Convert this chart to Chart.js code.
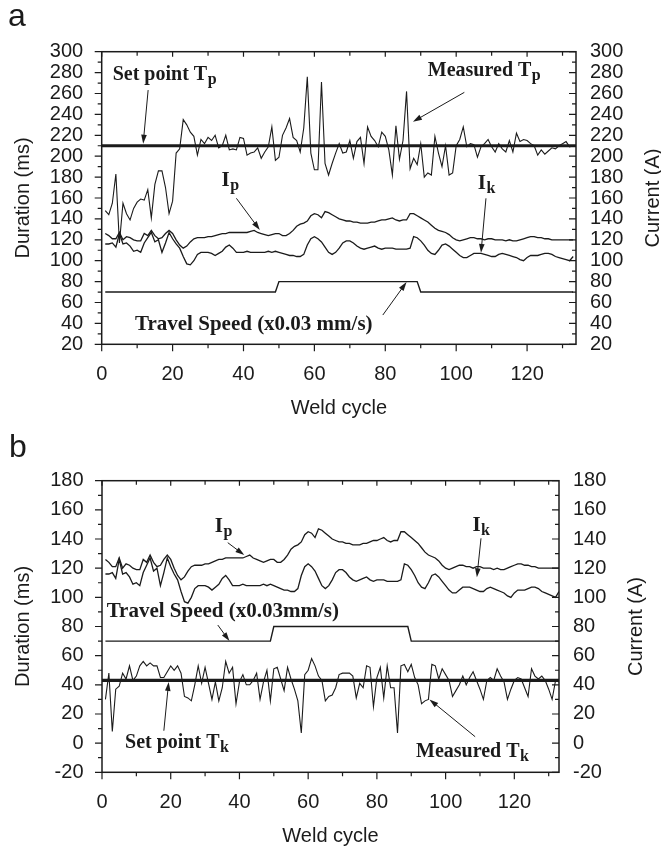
<!DOCTYPE html>
<html>
<head>
<meta charset="utf-8">
<title>Weld cycle control</title>
<script src="https://cdn.jsdelivr.net/npm/chart.js@4.4.1/dist/chart.umd.min.js"></script>
<style>
  html, body { margin: 0; padding: 0; background: #fff; }
  #wrap { position: relative; width: 661px; height: 848px; overflow: hidden; }
  canvas { position: absolute; left: 0; }
  #chartA { top: 0; }
  #chartB { top: 428px; }
</style>
</head>
<body>
<div id="wrap">
  <canvas id="chartA" width="661" height="426"></canvas>
  <canvas id="chartB" width="661" height="420"></canvas>
</div>
<script>
// weld cycles 1..133 (x axis)
const cycles = Array.from({ length: 133 }, (_, i) => i + 1);

// panel a: measured peak duration Tp (ms)
const measuredTp = [
  148, 144, 155, 183, 117, 155, 145, 139, 150, 156,
  159, 158, 168, 141, 173, 186, 186, 170, 145, 157,
  203, 207, 235, 230, 223, 219, 201, 216, 212, 218,
  215, 220, 208, 210, 220, 206, 207, 206, 218, 217,
  201, 203, 204, 208, 198, 204, 209, 228, 196, 199,
  220, 227, 236, 218, 215, 204, 227, 276, 203, 187,
  187, 271, 193, 182, 193, 203, 212, 203, 204, 215,
  198, 214, 218, 193, 228, 219, 215, 209, 223, 219,
  206, 182, 229, 197, 215, 262, 188, 198, 192, 212,
  180, 184, 182, 219, 203, 190, 210, 182, 184, 210,
  216, 228, 209, 212, 211, 199, 209, 212, 216, 209,
  204, 212, 207, 204, 215, 204, 222, 214, 216, 215,
  212, 210, 201, 206, 202, 205, 208, 207, 210, 212,
  214, 209, 210
];

// peak current Ip (A), both panels
const currentIp = [
  126, 124, 121, 121, 127, 120, 123, 122, 120, 119,
  119, 126, 124, 129, 124, 121, 122, 126, 129, 126,
  120, 115, 112, 114, 118, 121, 122, 122, 122, 123,
  123, 124, 125, 126, 126, 127, 127, 127, 127, 127,
  127, 128, 129, 127, 126, 125, 124, 125, 126, 126,
  124, 124, 126, 129, 133, 135, 136, 138, 143, 145,
  144, 141, 147, 146, 144, 142, 140, 139, 138, 138,
  137, 137, 136, 136, 136, 137, 137, 138, 139, 139,
  140, 141, 139, 138, 139, 139, 145, 145, 143, 141,
  139, 137, 134, 131, 129, 128, 127, 125, 122, 120,
  119, 120, 121, 122, 122, 121, 121, 120, 121, 121,
  120, 120, 120, 119, 120, 119, 119, 120, 121, 122,
  123, 123, 122, 122, 121, 121, 120, 120, 120, 120,
  120, 120, 120
];

// base current Ik (A), both panels
const currentIk = [
  116, 116, 117, 113, 126, 116, 117, 114, 109, 110,
  108, 117, 122, 127, 118, 120, 108, 117, 127, 121,
  116, 112, 104, 97, 96, 100, 106, 108, 108, 108,
  107, 105, 107, 109, 113, 115, 112, 108, 108, 108,
  109, 108, 108, 108, 108, 108, 109, 108, 109, 108,
  107, 106, 105, 105, 104, 104, 106, 115, 121, 123,
  121, 118, 113, 108, 106, 108, 112, 117, 119, 119,
  117, 114, 112, 111, 112, 113, 114, 112, 111, 112,
  112, 112, 111, 111, 111, 111, 112, 123, 122, 119,
  115, 110, 107, 106, 110, 115, 116, 114, 111, 108,
  105, 103, 103, 105, 107, 107, 107, 106, 105, 104,
  104, 106, 107, 106, 105, 104, 103, 101, 100, 103,
  105, 105, 105, 106, 107, 107, 106, 104, 103, 102,
  101, 100, 104
];

// panel b: measured base duration Tk (ms)
const measuredTk = [
  30, 48, 8, 37, 39, 48, 44, 53, 43, 46,
  53, 56, 53, 55, 53, 53, 45, 45, 49, 53,
  50, 53, 48, 32, 31, 29, 40, 53, 41, 52,
  41, 30, 42, 29, 38, 56, 48, 52, 27, 42,
  47, 40, 40, 43, 48, 30, 42, 50, 29, 51,
  52, 44, 36, 52, 44, 37, 29, 7, 47, 50,
  58, 53, 46, 43, 29, 32, 33, 38, 47, 48,
  48, 48, 46, 31, 41, 38, 53, 52, 25, 45,
  52, 31, 53, 38, 38, 7, 53, 54, 49, 54,
  45, 40, 27, 29, 30, 54, 53, 44, 51, 47,
  43, 32, 36, 40, 46, 40, 45, 49, 43, 37,
  30, 43, 45, 43, 51, 46, 42, 30, 37, 43,
  45, 44, 38, 32, 51, 46, 44, 46, 43, 37,
  30, 43, 42
];

const setPointTp = 210;
const setPointTk = 43;

// travel speed (x0.03 mm/s): corner points of the step profile
const speedCycles = [1, 49, 50, 89, 90, 133];
const speedValues = [70, 70, 80, 80, 70, 70];

// tick labels
const xTicks = [0, 20, 40, 60, 80, 100, 120];
const yTicksA = [20, 40, 60, 80, 100, 120, 140, 160, 180, 200, 220, 240, 260, 280, 300];
const yTicksB = [-20, 0, 20, 40, 60, 80, 100, 120, 140, 160, 180];

// annotation texts and where they sit (data coordinates)
const notesA = [
  { text: 'Set point T', sub: 'p', x: 3.1, y: 273, size: 20 },
  { text: 'Measured T', sub: 'p', x: 92, y: 276.7, size: 20 },
  { text: 'I', sub: 'p', x: 33.8, y: 171.5, size: 21 },
  { text: 'I', sub: 'k', x: 106.1, y: 168.3, size: 21 },
  { text: 'Travel Speed (x0.03 mm/s)', sub: '', x: 9.4, y: 33.7, size: 21 }
];
const arrowsA = [
  [13.1, 263.3, 11.7, 212],
  [102.3, 261.1, 87.8, 233],
  [38, 159.7, 44.6, 129.4],
  [108.4, 159.7, 107, 107.5],
  [79.3, 48, 86, 79.5]
];
const notesB = [
  { text: 'I', sub: 'p', x: 32.8, y: 145, size: 21 },
  { text: 'I', sub: 'k', x: 107.8, y: 145.7, size: 21 },
  { text: 'Travel Speed (x0.03mm/s)', sub: '', x: 1.35, y: 86.7, size: 21 },
  { text: 'Set point T', sub: 'k', x: 6.7, y: -3.5, size: 20 },
  { text: 'Measured T', sub: 'k', x: 91.4, y: -9.3, size: 20 }
];
const arrowsB = [
  [36.6, 137.5, 41.4, 129],
  [110.3, 140.5, 109.1, 113.7],
  [33.7, 81, 37.1, 70],
  [18, 8.5, 19.4, 42],
  [108.6, 4.4, 95.3, 30]
];

const INK = '#1b1b1b';
Chart.defaults.font.family = '"Liberation Sans", Arial, Helvetica, sans-serif';
Chart.defaults.color = INK;

function xy(xs, ys) {
  return xs.map((x, i) => ({ x: x, y: ys[i] }));
}

function line(data, width) {
  return { data: data, borderColor: INK, borderWidth: width, pointRadius: 0, tension: 0, clip: 0, fill: false };
}

function drawArrow(ctx, x1, y1, x2, y2) {
  const ang = Math.atan2(y2 - y1, x2 - x1);
  const L = 9, W = 2.8;
  ctx.beginPath();
  ctx.moveTo(x1, y1);
  ctx.lineTo(x2 - Math.cos(ang) * 4, y2 - Math.sin(ang) * 4);
  ctx.stroke();
  ctx.beginPath();
  ctx.moveTo(x2, y2);
  ctx.lineTo(x2 - L * Math.cos(ang) + W * Math.sin(ang), y2 - L * Math.sin(ang) - W * Math.cos(ang));
  ctx.lineTo(x2 - L * Math.cos(ang) - W * Math.sin(ang), y2 - L * Math.sin(ang) + W * Math.cos(ang));
  ctx.closePath();
  ctx.fill();
}

// frame, inner/outer tick marks, titles and the callouts
const framePlugin = {
  id: 'frame',
  afterDatasetsDraw(chart, args, o) {
    const { ctx, chartArea: a } = chart;
    const xs = chart.scales.x, ys = chart.scales.y;
    ctx.save();
    ctx.strokeStyle = INK;
    ctx.fillStyle = INK;
    ctx.lineWidth = 1.5;
    ctx.strokeRect(a.left, a.top, a.right - a.left, a.bottom - a.top);

    ctx.lineWidth = 1.2;
    ctx.beginPath();
    for (let v = ys.min; v <= ys.max + 0.01; v += 10) {
      const py = ys.getPixelForValue(v);
      const major = o.yTicks.includes(v);
      ctx.moveTo(a.left - (major ? 7 : 4), py);
      ctx.lineTo(a.left, py);
      ctx.moveTo(a.right, py);
      ctx.lineTo(a.right - (major ? 7 : 4), py);
    }
    for (let v = 0; v <= xs.max; v += 10) {
      const px = xs.getPixelForValue(v);
      const major = xTicks.includes(v);
      ctx.moveTo(px, a.bottom);
      ctx.lineTo(px, a.bottom + (major ? 7 : 4));
      ctx.moveTo(px, a.top);
      ctx.lineTo(px, a.top + (major ? 5 : 4));
    }
    ctx.stroke();

    // axis titles
    ctx.font = '20px "Liberation Sans", Arial, sans-serif';
    ctx.textAlign = 'center';
    ctx.textBaseline = 'middle';
    const midY = (a.top + a.bottom) / 2;
    ctx.save();
    ctx.translate(o.leftTitleX, midY);
    ctx.rotate(-Math.PI / 2);
    ctx.fillText('Duration (ms)', 0, 0);
    ctx.restore();
    ctx.save();
    ctx.translate(a.right + 77, midY);
    ctx.rotate(-Math.PI / 2);
    ctx.fillText('Current (A)', 0, 0);
    ctx.restore();
    ctx.textBaseline = 'alphabetic';
    ctx.fillText('Weld cycle', (a.left + a.right) / 2, a.bottom + 69.4);

    // panel letter
    ctx.textAlign = 'left';
    ctx.font = '32px "Liberation Sans", Arial, sans-serif';
    ctx.fillText(o.letter, o.letterX, o.letterY);

    // callouts
    o.notes.forEach(n => {
      const px = xs.getPixelForValue(n.x), py = ys.getPixelForValue(n.y);
      ctx.font = 'bold ' + n.size + 'px "Liberation Serif", "Times New Roman", serif';
      ctx.fillText(n.text, px, py);
      if (n.sub) {
        const w = ctx.measureText(n.text).width;
        ctx.font = 'bold 16px "Liberation Serif", "Times New Roman", serif';
        ctx.fillText(n.sub, px + w + 0.5, py + 4);
      }
    });
    ctx.lineWidth = 1;
    o.arrows.forEach(r => {
      drawArrow(ctx, xs.getPixelForValue(r[0]), ys.getPixelForValue(r[1]),
        xs.getPixelForValue(r[2]), ys.getPixelForValue(r[3]));
    });
    ctx.restore();
  }
};

function makeChart(id, c) {
  const tickFont = { size: 20 };
  return new Chart(document.getElementById(id), {
    type: 'line',
    data: { datasets: c.datasets },
    options: {
      responsive: false,
      animation: false,
      devicePixelRatio: 1,
      events: [],
      layout: { padding: { top: c.top, left: 0, right: 0, bottom: 0 }, autoPadding: false },
      plugins: {
        legend: { display: false },
        tooltip: { enabled: false },
        frame: {
          yTicks: c.yTicks, notes: c.notes, arrows: c.arrows, letter: c.letter,
          letterX: c.letterX, letterY: c.letterY, leftTitleX: 23
        }
      },
      scales: {
        x: {
          type: 'linear', min: 0, max: c.xMax,
          grid: { display: false, drawTicks: false }, border: { display: false },
          ticks: { padding: 18, color: INK, font: tickFont, autoSkip: false, maxRotation: 0 },
          afterBuildTicks: s => { s.ticks = xTicks.map(v => ({ value: v })); },
          afterFit: s => { s.height = c.height - c.bottom; }
        },
        y: {
          type: 'linear', position: 'left', min: c.yMin, max: c.yMax,
          grid: { display: false, drawTicks: false }, border: { display: false },
          ticks: { padding: 18.5, color: INK, font: tickFont, autoSkip: false },
          afterBuildTicks: s => { s.ticks = c.yTicks.map(v => ({ value: v })); },
          afterFit: s => { s.width = c.left; }
        },
        y1: {
          type: 'linear', position: 'right', min: c.yMin, max: c.yMax,
          grid: { display: false, drawTicks: false }, border: { display: false },
          ticks: { padding: 14, color: INK, font: tickFont, autoSkip: false },
          afterBuildTicks: s => { s.ticks = c.yTicks.map(v => ({ value: v })); },
          afterFit: s => { s.width = 661 - c.right; }
        }
      }
    },
    plugins: [framePlugin]
  });
}

const xMaxA = 133.8, xMaxB = 133;

makeChart('chartA', {
  top: 51.7, bottom: 344.3, left: 101.7, right: 576, height: 426,
  xMax: xMaxA, yMin: 20, yMax: 300, yTicks: yTicksA,
  notes: notesA, arrows: arrowsA, letter: 'a', letterX: 8, letterY: 26,
  datasets: [
    line(xy(cycles, measuredTp), 1.1),
    line([{ x: 0, y: setPointTp }, { x: xMaxA, y: setPointTp }], 3.2),
    line(xy(cycles, currentIp), 1.3),
    line(xy(cycles, currentIk), 1.3),
    line(xy(speedCycles, speedValues), 1.4)
  ]
});

makeChart('chartB', {
  top: 52.7, bottom: 344.3, left: 102, right: 559, height: 420,
  xMax: xMaxB, yMin: -20, yMax: 180, yTicks: yTicksB,
  notes: notesB, arrows: arrowsB, letter: 'b', letterX: 9, letterY: 29,
  datasets: [
    line(xy(cycles, currentIp), 1.3),
    line(xy(cycles, currentIk), 1.3),
    line(xy(speedCycles, speedValues), 1.4),
    line([{ x: 0, y: setPointTk }, { x: xMaxB, y: setPointTk }], 3.2),
    line(xy(cycles, measuredTk), 1.1)
  ]
});
</script>
</body>
</html>
